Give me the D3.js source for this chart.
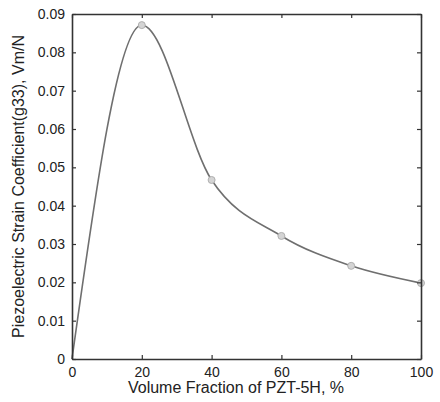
<!DOCTYPE html>
<html>
<head>
<meta charset="utf-8">
<script src="https://cdn.jsdelivr.net/npm/d3@7"></script>
<style>
  body { margin: 0; background: #fff; }
  svg text { font-family: "Liberation Sans", Arial, sans-serif; fill: #222; }
</style>
</head>
<body>
<div id="chart"></div>
<script>
// volume fraction (%) and g33 (Vm/N)
const fractions = [0, 20, 40, 60, 80, 100];
const g33 = [0, 0.0871, 0.0467, 0.0321, 0.0243, 0.0198];
const xTicks = [0, 20, 40, 60, 80, 100];
const yTicks = [0, 0.01, 0.02, 0.03, 0.04, 0.05, 0.06, 0.07, 0.08, 0.09];
const xTitle = 'Volume Fraction of PZT-5H, %';
const yTitle = 'Piezoelectric Strain Coefficient(g33), Vm/N';

const W = 440, H = 402;
const margin = { top: 14, right: 19, bottom: 43, left: 72 };
const width = W - margin.left - margin.right;
const height = H - margin.top - margin.bottom;

const svg = d3.select('#chart').append('svg')
  .attr('width', W)
  .attr('height', H);

const g = svg.append('g')
  .attr('transform', `translate(${margin.left},${margin.top})`);

const x = d3.scaleLinear().domain([0, 100]).range([0, width]);
const y = d3.scaleLinear().domain([0, 0.09]).range([height, 0]);

const data = fractions.map((f, i) => [f, g33[i]]);

// smooth curve, shape preserving
const line = d3.line()
  .x(d => x(d[0]))
  .y(d => y(d[1]))
  .curve(d3.curveMonotoneX);

g.append('path')
  .datum(data)
  .attr('d', line)
  .attr('fill', 'none')
  .attr('stroke', '#6f6f6f')
  .attr('stroke-width', 1.6);

// markers
g.selectAll('.pt')
  .data(data.slice(1))
  .enter().append('circle')
  .attr('class', 'pt')
  .attr('cx', d => x(d[0]))
  .attr('cy', d => y(d[1]))
  .attr('r', 3.5)
  .attr('fill', '#d4d4d4')
  .attr('stroke', '#b0b0b0')
  .attr('stroke-width', 1);

// axes, ticks inside like matlab
const fmtY = d => d === 0 ? '0' : d3.format('.2f')(d);
const axB = g.append('g').attr('transform', `translate(0,${height})`)
  .call(d3.axisBottom(x).tickValues(xTicks).tickSizeInner(-4).tickSizeOuter(0).tickPadding(8));
const axL = g.append('g')
  .call(d3.axisLeft(y).tickValues(yTicks).tickFormat(fmtY).tickSizeInner(-4).tickSizeOuter(0).tickPadding(7));
const axT = g.append('g')
  .call(d3.axisTop(x).tickValues(xTicks).tickSizeInner(-4).tickSizeOuter(0).tickFormat(''));
const axR = g.append('g').attr('transform', `translate(${width},0)`)
  .call(d3.axisRight(y).tickValues(yTicks).tickSizeInner(-4).tickSizeOuter(0).tickFormat(''));

[axB, axL, axT, axR].forEach(a => {
  a.selectAll('path').attr('stroke', '#333').attr('stroke-width', 1.6);
  a.selectAll('line').attr('stroke', '#333').attr('stroke-width', 1.2);
  a.selectAll('text').attr('font-size', 14).attr('fill', '#222');
});

// titles
svg.append('text')
  .attr('x', 236)
  .attr('y', H - 9)
  .attr('text-anchor', 'middle')
  .attr('font-size', 16)
  .text(xTitle);

svg.append('text')
  .attr('transform', `translate(24,${margin.top + height / 2}) rotate(-90)`)
  .attr('text-anchor', 'middle')
  .attr('font-size', 16)
  .text(yTitle);
</script>
</body>
</html>
